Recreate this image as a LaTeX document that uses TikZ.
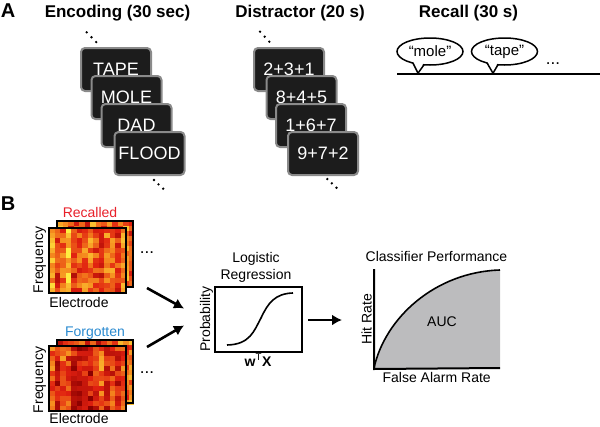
\documentclass[tikz,border=0pt]{standalone}
\usepackage{fontspec}
\setmainfont{Liberation Sans}
\usetikzlibrary{shapes.geometric,arrows.meta}
\definecolor{hmD}{HTML}{8A0000}
\definecolor{hmR}{HTML}{E02010}
\definecolor{hmO}{HTML}{F58A1E}
\definecolor{hmY}{HTML}{FFEE40}
\definecolor{cardfill}{HTML}{1C1C1C}
\definecolor{cardedge}{HTML}{8A8A8A}
\definecolor{recred}{HTML}{E8202A}
\definecolor{forblue}{HTML}{2A8AD0}
\definecolor{aucgray}{HTML}{BCBCBE}
\newcommand\myheat[5]{% x0, y0, bias, stripe amplitude, noise
  \foreach \i in {0,...,13}{
    \pgfmathsetmacro\cb{#3+#4*(rnd-0.5)}
    \foreach \j in {0,...,12}{
      \pgfmathsetmacro\v{max(0,min(99,\cb+#5*(rnd-0.5)))}
      \ifdim\v pt<33pt \pgfmathtruncatemacro\p{\v*3}\def\cc{hmR!\p!hmD}%
      \else\ifdim\v pt<66pt \pgfmathtruncatemacro\p{(\v-33)*3}\def\cc{hmO!\p!hmR}%
      \else \pgfmathtruncatemacro\p{min(100,(\v-66)*3)}\def\cc{hmY!\p!hmO}\fi\fi
      \fill[\cc] ({#1+\i*5.5},{#2+\j*5}) rectangle ++(5.6,5.1);
    }
  }
}
\begin{document}
\begin{tikzpicture}[x=1pt,y=-1pt,
  title/.style={font=\fontsize{17}{20}\selectfont\bfseries, anchor=base, inner sep=0},
  panel/.style={font=\fontsize{20}{24}\selectfont\bfseries, anchor=base, inner sep=0},
  card/.style={rectangle, rounded corners=4pt, fill=cardfill, draw=cardedge, line width=2pt,
    minimum width=70pt, minimum height=43pt, text=white, font=\fontsize{18}{20}\selectfont, inner sep=0},
  lbl/.style={font=\fontsize{14}{16}\selectfont, anchor=base, inner sep=0},
  vlbl/.style={lbl, rotate=90},
  dotlbl/.style={font=\fontsize{17}{18}\selectfont, anchor=base, inner sep=0},
  bubble/.style={ellipse, draw, line width=1.5pt, fill=white, minimum width=66pt, minimum height=27pt,
    inner sep=0, font=\fontsize{15}{17}\selectfont},
  frame/.style={draw, line width=1.8pt, inner sep=0, minimum width=77pt, minimum height=65pt},
  bigarrow/.style={line width=2.6pt, -{Latex[length=10pt,width=11pt]}},
  dotc/.style={fill, circle, inner sep=0, minimum size=2.6pt}
]
\useasboundingbox (0,0) rectangle (600,426);

% ---------- Panel A ----------
\node[panel] (A) at (8,17) {A};
\node[title] (enc) at (117.5,17) {Encoding (30 sec)};
\node[title] (dis) at (300,17) {Distractor (20 s)};
\node[title] (rec) at (468.5,17) {Recall (30 s)};

% encoding cards
\node[dotc] (ed1) at (86.7,32.3) {};
\node[dotc] (ed2) at (91.5,37.2) {};
\node[dotc] (ed3) at (96.2,42) {};
\node[card] (c1) at (116,69.5) {TAPE};
\node[card] (c2) at (126.5,97.5) {MOLE};
\node[card] (c3) at (136.5,125.5) {DAD};
\node[card] (c4) at (149.5,153.5) {FLOOD};
\node[dotc] (ed4) at (154,180) {};
\node[dotc] (ed5) at (158.5,184.3) {};
\node[dotc] (ed6) at (163.2,188.7) {};

% distractor cards
\node[dotc] (dd1) at (260,31.7) {};
\node[dotc] (dd2) at (264.7,36.7) {};
\node[dotc] (dd3) at (269.3,41.7) {};
\node[card] (d1) at (289,69.5) {2+3+1};
\node[card] (d2) at (301.5,97.5) {8+4+5};
\node[card] (d3) at (311,125.5) {1+6+7};
\node[card] (d4) at (323,153.5) {9+7+2};
\node[dotc] (dd4) at (327.3,179) {};
\node[dotc] (dd5) at (331.8,183.3) {};
\node[dotc] (dd6) at (336.5,187.7) {};

% recall
\coordinate (lineL) at (397,74);
\coordinate (lineR) at (600,74);
\draw[line width=1.8pt] (lineL) -- (lineR);
\node[bubble] (b1) at (430,51.5) {“mole”};
\fill[white] (413.5,62) -- (418,73) -- (423.5,63) -- cycle;
\draw[line width=1.5pt, line join=round] (413,63.1) -- (418,73.2) -- (424,64.8);
\node[bubble] (b2) at (504.5,51.5) {“tape”};
\fill[white] (487.5,62) -- (493,73) -- (497.5,63) -- cycle;
\draw[line width=1.5pt, line join=round] (487,62.9) -- (493,73.2) -- (498,64.7);
\node[dotlbl] (rdots) at (553,64) {...};

% ---------- Panel B ----------
\node[panel] (B) at (8,210) {B};

% recalled spectrograms
\pgfmathsetseed{17}
\myheat{57}{221}{58}{70}{45}
\node[frame, minimum width=76pt, minimum height=66pt] (recBack) at (95,254) {};
\myheat{49}{228}{58}{70}{45}
\node[frame] (recFront) at (87.75,260.5) {};
\node[lbl, text=recred] (recl) at (90,217) {Recalled};
\node[vlbl] (fq1) at (43,260) {Frequency};
\node[lbl] (el1) at (79,307.3) {Electrode};
\node[dotlbl] (dots1) at (147,253) {...};

% forgotten spectrograms
\myheat{57}{340}{40}{40}{50}
\node[frame, minimum width=76pt, minimum height=63pt] (forBack) at (95,371.5) {};
\myheat{49}{346}{40}{40}{50}
\node[frame] (forFront) at (87.75,378.5) {};
\node[lbl, text=forblue] (forl) at (95,336) {Forgotten};
\node[vlbl] (fq2) at (43,380) {Frequency};
\node[lbl] (el2) at (79,423) {Electrode};
\node[dotlbl] (dots2) at (147,373) {...};

% arrows to logistic regression
\coordinate (a1s) at (147,288);
\coordinate (a1e) at (184,308.5);
\coordinate (a2s) at (147,347);
\coordinate (a2e) at (184,325.5);
\draw[bigarrow] (a1s) -- (a1e);
\draw[bigarrow] (a2s) -- (a2e);

% logistic regression
\node[lbl] (lg1) at (256,262.3) {Logistic};
\node[lbl] (lg2) at (256,279.3) {Regression};
\node[draw, line width=2.2pt, minimum width=87pt, minimum height=65pt, inner sep=0] (logbox) at (258.5,319.5) {};
\draw[line width=1.6pt] (227,345) .. controls (250,344.5) and (254,331) .. (261,318)
  .. controls (268,303) and (275,293.5) .. (293,293);
\node[vlbl] (prob) at (210,319) {Probability};
\node[lbl, font=\fontsize{14}{16}\selectfont\bfseries] (wtx) at (258,366) {w\textsuperscript{\normalfont T}X};

\coordinate (a3s) at (308,320);
\coordinate (a3e) at (342,320);
\draw[bigarrow] (a3s) -- (a3e);

% classifier performance
\node[lbl] (cp) at (436.5,261.7) {Classifier Performance};
\coordinate (org) at (374,368);
\coordinate (top) at (374,269);
\coordinate (xend) at (500,368);
\coordinate (cend) at (500,270);
\fill[aucgray] (org) .. controls (385,318) and (435,272) .. (cend) -- (xend) -- cycle;
\draw[line width=1.6pt] (org) .. controls (385,318) and (435,272) .. (cend);
\draw[line width=2pt] (top) -- (374,369) -- (xend);
\node[lbl] (auc) at (442,326.7) {AUC};
\node[vlbl] (hr) at (371.5,319) {Hit Rate};
\node[lbl] (far) at (436.7,382) {False Alarm Rate};
\end{tikzpicture}
\end{document}
